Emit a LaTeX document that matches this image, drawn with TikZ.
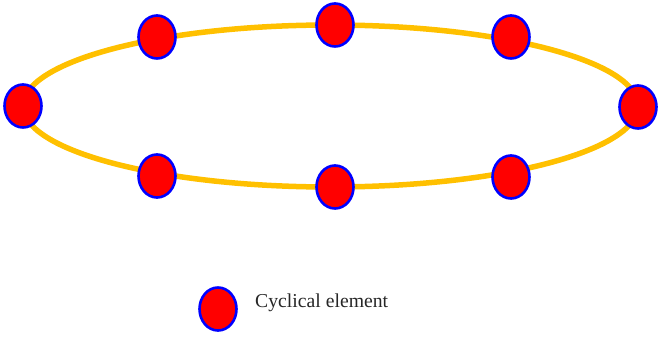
\documentclass[tikz,border=0pt]{standalone}
\usepackage{fontspec}
\setmainfont{Liberation Serif}
\usepackage{xcolor}
\usepackage{tikz}
\usetikzlibrary{shapes.geometric}

\definecolor{ringgold}{HTML}{FFC000}

\begin{document}
\begin{tikzpicture}[
  x=1pt, y=-1pt,
  elem/.style={draw=blue, fill=red, ellipse, line width=2.6pt, minimum width=37pt, minimum height=43pt, inner sep=0pt},
  ring/.style={draw=ringgold, line width=5.5pt},
  legtext/.style={font=\fontsize{19.7}{24}\selectfont, text=black!85, inner sep=0pt}
]
\useasboundingbox (0,0) rectangle (658,339);

\draw [ring] (330.5,106) ellipse [x radius=307.5pt, y radius=81pt];

\node [elem] (e1) at (23,106) {};
\node [elem] (e2) at (157,37) {};
\node [elem] (e3) at (335,25) {};
\node [elem] (e4) at (511,37) {};
\node [elem] (e5) at (638,107) {};
\node [elem] (e6) at (511,177) {};
\node [elem] (e7) at (335,187) {};
\node [elem] (e8) at (157,176) {};

% legend
\node [elem] (key) at (218,309) {};
\node [legtext, anchor=base west] (keylabel) at (255,307) {Cyclical element};
\end{tikzpicture}
\end{document}
